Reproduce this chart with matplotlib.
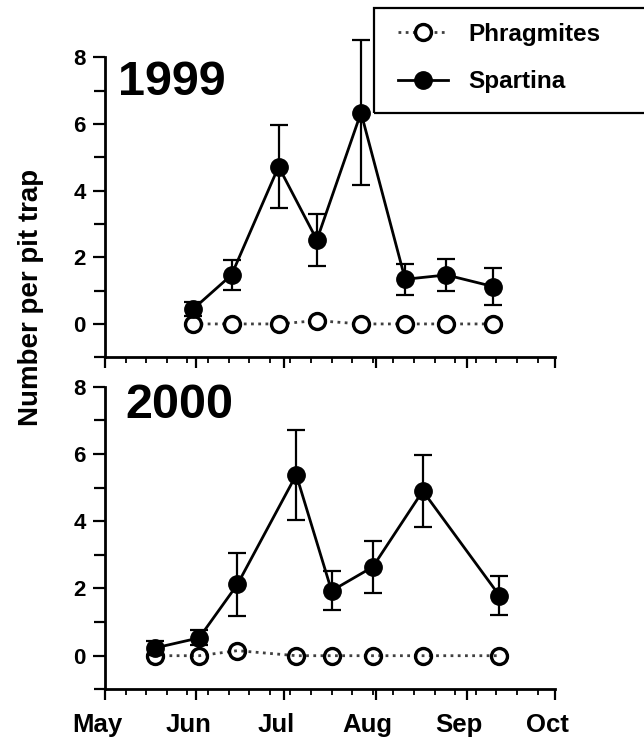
import datetime as dt

import matplotlib
matplotlib.use('Agg')
import matplotlib.pyplot as plt
import matplotlib.dates as mdates
from matplotlib.patches import Rectangle
from matplotlib.ticker import FixedLocator, NullFormatter
from matplotlib.transforms import ScaledTranslation

plt.rcParams['font.family'] = ['Liberation Sans', 'DejaVu Sans']
plt.rcParams['font.weight'] = 'bold'

# mean catch per pit trap (+/- SE) on each sampling date
dates_1999 = ['1999-05-31', '1999-06-13', '1999-06-29', '1999-07-12',
              '1999-07-27', '1999-08-11', '1999-08-25', '1999-09-10']
spartina_1999 = [0.45, 1.47, 4.72, 2.52, 6.34, 1.34, 1.47, 1.12]
spartina_1999_se = [0.22, 0.45, 1.24, 0.77, 2.18, 0.46, 0.48, 0.55]
phragmites_1999 = [0, 0, 0, 0.1, 0, 0, 0, 0]

dates_2000 = ['2000-05-18', '2000-06-02', '2000-06-15', '2000-07-05',
              '2000-07-17', '2000-07-31', '2000-08-17', '2000-09-12']
spartina_2000 = [0.23, 0.53, 2.12, 5.38, 1.93, 2.64, 4.9, 1.79]
spartina_2000_se = [0.2, 0.22, 0.93, 1.34, 0.58, 0.77, 1.06, 0.57]
phragmites_2000 = [0, 0, 0.15, 0, 0, 0, 0, 0]

years = ['1999', '2000']
month_names = ['May', 'Jun', 'Jul', 'Aug', 'Sep', 'Oct']

fig = plt.figure(figsize=(6.44, 7.42), dpi=100)
ax1 = fig.add_axes([0.1630, 0.5185, 0.6992, 0.4043])
ax2 = fig.add_axes([0.1630, 0.0710, 0.6992, 0.4078])

panels = [
    (ax1, years[0], dates_1999, spartina_1999, spartina_1999_se, phragmites_1999, 'white', (0.029, 0.874)),
    (ax2, years[1], dates_2000, spartina_2000, spartina_2000_se, phragmites_2000, 'none', (0.046, 0.896)),
]

handles = None
for ax, year, dates, sp, sp_se, ph, face, txt_pos in panels:
    x = [dt.datetime.strptime(d, '%Y-%m-%d') for d in dates]
    y0 = int(year)

    ph_line, = ax.plot(x, ph, linestyle=(0, (1, 1.6)), color='0.25', lw=2,
                       marker='o', ms=11.5, mfc=face, mec='k', mew=2.4, zorder=2)
    eb = ax.errorbar(x, sp, yerr=sp_se, fmt='none', ecolor='k', elinewidth=1.6,
                     capsize=6.5, capthick=1.6, zorder=3)
    for art in list(eb.lines[1]) + list(eb.lines[2]):
        art.set_clip_on(False)
    sp_line, = ax.plot(x, sp, '-', color='k', lw=2, marker='o', ms=12.5,
                       mfc='k', mec='k', zorder=4, clip_on=False)
    if handles is None:
        handles = [ph_line, sp_line]

    start = dt.datetime(y0, 5, 1)
    end = dt.datetime(y0, 10, 1)
    ax.set_xlim(start, end)
    ax.set_ylim(-1, 8)

    # month starts as major ticks, weekly minor ticks from 1 May
    months = [dt.datetime(y0, m, 1) for m in range(5, 11)]
    weeks = [start + dt.timedelta(days=7 * k) for k in range(22)]
    ax.xaxis.set_major_locator(FixedLocator(mdates.date2num(months)))
    ax.xaxis.set_minor_locator(FixedLocator(mdates.date2num(weeks)))
    ax.set_xticklabels(month_names)
    ax.yaxis.set_major_locator(FixedLocator([0, 2, 4, 6, 8]))
    ax.yaxis.set_minor_locator(FixedLocator([-1, 1, 3, 5, 7]))

    ax.spines['top'].set_visible(False)
    ax.spines['right'].set_visible(False)
    ax.spines['left'].set_linewidth(2)
    ax.spines['bottom'].set_linewidth(2)

    ax.tick_params(axis='y', which='major', length=9, width=1.6, pad=5, labelsize=16)
    ax.tick_params(axis='y', which='minor', length=8, width=1.6)
    ax.tick_params(axis='x', which='major', length=8, width=1.6, pad=9, labelsize=18.5)
    ax.tick_params(axis='x', which='minor', length=4.5, width=1.3)

    ax.text(txt_pos[0], txt_pos[1], year, transform=ax.transAxes, fontsize=35,
            fontweight='bold', ha='left', va='baseline')

ax1.xaxis.set_major_formatter(NullFormatter())

shift = ScaledTranslation(-0.08, 0, fig.dpi_scale_trans)
for lab in ax2.get_xticklabels():
    lab.set_transform(lab.get_transform() + shift)

fig.text(31 / 644, 1 - 297 / 742, 'Number per pit trap', rotation=90,
         ha='center', va='center', fontsize=20, fontweight='bold')

# legend box in the upper right corner
fig.legend(handles, ['Phragmites', 'Spartina'], loc='upper left',
           bbox_to_anchor=(398 / 644, 1 - 23 / 742), frameon=False,
           borderpad=0, borderaxespad=0, handlelength=2.05, handletextpad=0.85,
           labelspacing=1.0, prop={'size': 17.5, 'weight': 'bold'})
fig.add_artist(Rectangle((373.7 / 644, 1 - 113.3 / 742), 0.43, 105 / 742,
                         transform=fig.transFigure, fill=False, lw=1.6,
                         edgecolor='k'))

fig.savefig('out.png', dpi=100)
